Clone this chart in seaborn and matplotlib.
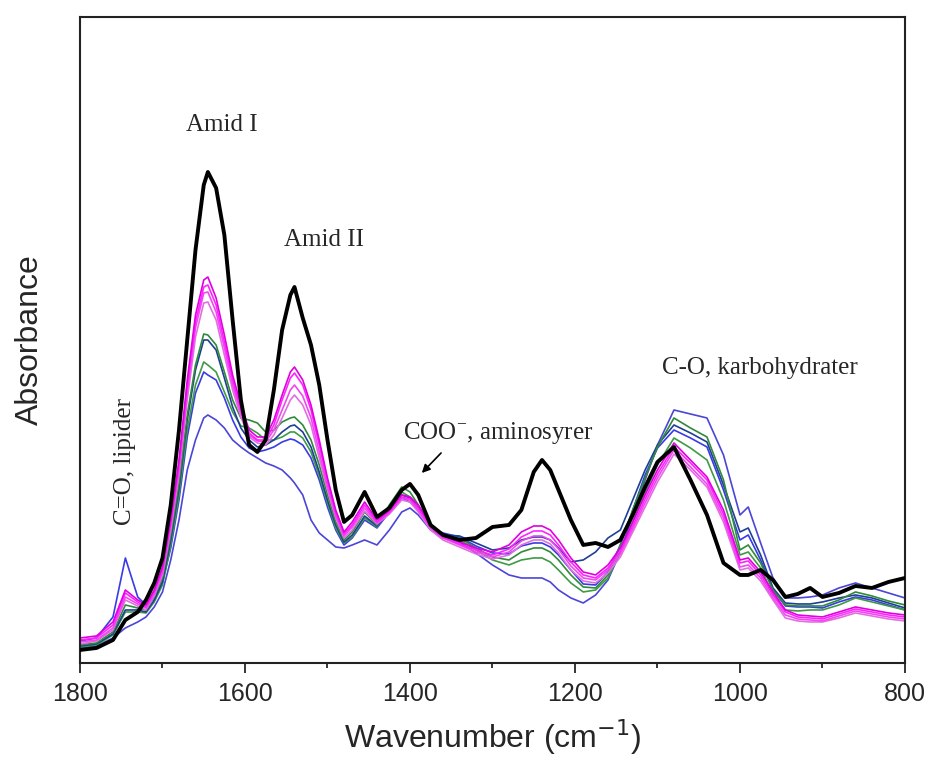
import numpy as np
import pandas as pd
import matplotlib
matplotlib.use("Agg")
import matplotlib.pyplot as plt
import seaborn as sns

# wavenumber grid (cm-1) the spectra were read at
wavenumber = [1800, 1780, 1760, 1745, 1730, 1720, 1710, 1700,
              1690, 1680, 1670, 1660, 1650, 1645,
              1635, 1625, 1615, 1605, 1595, 1585, 1575, 1565, 1555, 1545, 1540,
              1530, 1520, 1510, 1500, 1490, 1480, 1470, 1455, 1440, 1425, 1410, 1400, 1390, 1375, 1360,
              1340, 1320, 1300, 1280, 1265, 1250, 1240, 1230, 1220, 1205, 1190, 1175, 1160,
              1145, 1130, 1115, 1100, 1080,
              1060, 1040, 1020, 1000, 990, 975, 960, 945, 930, 915, 900, 880, 860, 840, 820, 800]

# absorbance, milli-units above the plot baseline
black = [13, 15, 23, 43, 51, 63, 80, 105,
         158, 233, 323, 413, 478, 491,
         475, 428, 343, 263, 218, 211, 223, 273, 333, 368, 376,
         345, 318, 278, 223, 173, 141, 148, 171, 146, 155, 173, 179, 168, 138, 128,
         123, 125, 136, 138, 153, 191, 203, 193, 173, 143, 118, 120, 116,
         123, 148, 176, 201, 216,
         183, 148, 100, 88, 88, 93, 83, 66, 69, 75, 66, 70, 77, 75, 81, 85]
mag1 = [25, 27, 41, 73, 63, 58, 73, 96,
        143, 203, 283, 348, 383, 386,
        365, 328, 288, 258, 233, 226, 226, 243, 268, 291, 296,
        283, 258, 223, 185, 153, 131, 141, 161, 143, 153, 168, 166, 158, 138, 128,
        121, 115, 111, 118, 131, 137, 137, 133, 123, 105, 91, 88, 98,
        115, 141, 168, 193, 220,
        203, 186, 153, 103, 105, 91, 71, 53, 48, 47, 46, 51, 56, 53, 50, 48]
mag2 = [23, 25, 38, 70, 61, 56, 71, 93,
        140, 198, 276, 341, 376, 378,
        358, 321, 283, 253, 230, 223, 223, 238, 263, 285, 290,
        278, 253, 218, 181, 150, 129, 138, 158, 141, 151, 166, 164, 155, 136, 126,
        119, 113, 108, 114, 126, 132, 132, 128, 118, 101, 88, 85, 95,
        112, 137, 164, 189, 216,
        200, 183, 149, 100, 102, 88, 68, 51, 46, 45, 44, 49, 54, 51, 48, 46]
mag3 = [21, 23, 35, 66, 59, 55, 69, 91,
        137, 193, 270, 335, 370, 371,
        351, 315, 278, 250, 228, 222, 221, 233, 253, 273, 278,
        267, 245, 211, 176, 147, 127, 136, 155, 140, 150, 165, 163, 153, 135, 125,
        118, 111, 106, 111, 122, 127, 127, 123, 114, 97, 85, 83, 93,
        109, 134, 160, 185, 213,
        196, 179, 145, 96, 98, 85, 65, 48, 44, 43, 42, 47, 52, 49, 46, 44]
mag4 = [19, 22, 33, 63, 57, 53, 67, 88,
        133, 188, 263, 326, 360, 361,
        343, 308, 273, 246, 226, 220, 218, 228, 245, 263, 268,
        258, 238, 205, 173, 145, 125, 133, 152, 139, 149, 163, 161, 151, 133, 123,
        116, 109, 104, 108, 118, 123, 123, 119, 110, 93, 82, 80, 90,
        106, 131, 156, 181, 209,
        193, 176, 141, 93, 95, 82, 63, 45, 42, 41, 41, 45, 50, 47, 44, 42]
green1 = [18, 20, 31, 58, 55, 53, 66, 85,
          128, 180, 248, 298, 329, 328,
          318, 291, 263, 245, 243, 240, 231, 233, 241, 245, 246,
          238, 223, 198, 168, 141, 123, 131, 151, 138, 158, 176, 171, 158, 137, 125,
          125, 115, 106, 103, 111, 115, 115, 111, 103, 88, 76, 75, 88,
          118, 153, 185, 216, 245,
          235, 226, 183, 113, 118, 100, 73, 58, 57, 57, 57, 63, 71, 67, 62, 58]
blue1 = [17, 19, 29, 53, 53, 51, 63, 81,
         123, 175, 243, 293, 323, 323,
         313, 285, 256, 235, 223, 216, 218, 223, 231, 237, 238,
         231, 216, 191, 163, 138, 121, 128, 147, 137, 153, 168, 165, 155, 136, 128,
         127, 120, 113, 115, 123, 126, 126, 123, 115, 101, 103, 111, 125,
         133, 163, 193, 218, 238,
         230, 221, 178, 131, 135, 108, 75, 60, 59, 59, 61, 65, 68, 65, 60, 55]
green2 = [16, 18, 28, 51, 51, 50, 61, 78,
          118, 168, 233, 278, 301, 298,
          291, 271, 251, 237, 235, 230, 223, 223, 226, 231, 231,
          225, 211, 187, 160, 135, 120, 126, 145, 136, 155, 171, 166, 155, 135, 126,
          123, 113, 103, 98, 103, 105, 105, 101, 93, 80, 71, 73, 85,
          111, 141, 170, 198, 225,
          215, 203, 163, 108, 111, 95, 68, 53, 52, 53, 53, 58, 65, 61, 57, 53]
blue2 = [22, 25, 46, 105, 66, 58, 65, 81,
         115, 163, 226, 270, 291, 288,
         283, 265, 243, 226, 215, 211, 213, 216, 221, 224, 223,
         218, 205, 183, 156, 133, 118, 125, 143, 135, 151, 165, 161, 153, 135, 130,
         126, 117, 110, 109, 117, 120, 120, 116, 108, 93, 79, 78, 91,
         118, 153, 188, 215, 233,
         225, 216, 173, 123, 128, 103, 73, 57, 56, 56, 55, 61, 66, 63, 58, 53]
blue3 = [15, 17, 25, 35, 41, 46, 56, 71,
         103, 143, 193, 223, 245, 248,
         243, 235, 223, 216, 210, 205, 200, 197, 193, 185, 180,
         168, 143, 130, 123, 116, 115, 118, 123, 118, 133, 151, 155, 148, 133, 125,
         121, 110, 98, 88, 85, 85, 85, 81, 73, 65, 60, 68, 83,
         111, 148, 183, 218, 253,
         249, 245, 208, 148, 156, 120, 85, 65, 65, 66, 68, 75, 80, 75, 70, 65]

series = {
    'blue3': blue3, 'blue2': blue2, 'green2': green2, 'blue1': blue1, 'green1': green1,
    'mag4': mag4, 'mag3': mag3, 'mag2': mag2, 'mag1': mag1, 'black': black,
}
colors = {
    'blue3': '#4b45d8', 'blue2': '#3a3ae6', 'green2': '#3f9a45', 'blue1': '#1f3f96',
    'green1': '#2f8a3a', 'mag4': '#e070e0', 'mag3': '#f048f0', 'mag2': '#ff22ff',
    'mag1': '#e000e0', 'black': '#000000',
}

df = pd.DataFrame([(k, w, v) for k, vals in series.items() for w, v in zip(wavenumber, vals)],
                  columns=['sample', 'wavenumber', 'absorbance'])

sns.set_style('ticks')
plt.rcParams['font.family'] = ['Liberation Sans', 'DejaVu Sans']

fig = plt.figure(figsize=(9.28, 7.63), dpi=100)
ax = fig.add_axes([0.0862, 0.1311, 0.8890, 0.8466])

for name in series:
    sub = df[df['sample'] == name]
    sns.lineplot(data=sub, x='wavenumber', y='absorbance', color=colors[name],
                 lw=2.8 if name == 'black' else 1.2, estimator=None, sort=False,
                 ax=ax, zorder=3 if name == 'black' else 2)

ax.set_xlim(1800, 800)
ax.set_ylim(0, 646)
ax.set_xticks([1800, 1600, 1400, 1200, 1000, 800])
ax.set_xticks([1700, 1500, 1300, 1100, 900], minor=True)
ax.set_yticks([])
ax.tick_params(axis='x', which='major', length=7, width=1.3, labelsize=18, pad=7, direction='out')
ax.tick_params(axis='x', which='minor', length=3.5, width=1.3, direction='out')
for sp in ax.spines.values():
    sp.set_linewidth(1.5)
    sp.set_color('#222222')

ax.set_xlabel('Wavenumber (cm$^{-1}$)', fontsize=23, labelpad=8)
ax.set_ylabel('Absorbance', fontsize=23, labelpad=25)

serif = ['Liberation Serif', 'DejaVu Serif']
ax.text(1628, 538, 'Amid I', family=serif, fontsize=18, ha='center', va='center')
ax.text(1504, 423, 'Amid II', family=serif, fontsize=18, ha='center', va='center')
ax.text(1745, 201, 'C=O, lipider', family=serif, fontsize=18, ha='center', va='center',
        rotation=90)
ax.text(1408, 230, 'COO$^{\\mathregular{-}}$, aminosyrer', family=serif, fontsize=18,
        ha='left', va='center')
ax.annotate('', xy=(1388, 188), xytext=(1360, 212),
            arrowprops=dict(arrowstyle='-|>', color='black', lw=1.2, mutation_scale=12))
ax.text(976, 295, 'C-O, karbohydrater', family=serif, fontsize=18, ha='center', va='center')

fig.savefig('out.png', dpi=100)
